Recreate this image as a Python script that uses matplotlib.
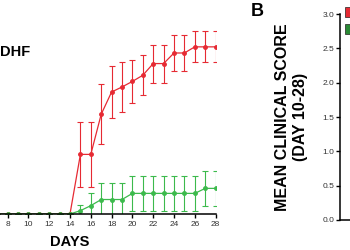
import matplotlib
matplotlib.use('Agg')
import matplotlib.pyplot as plt
from matplotlib.patches import Patch

plt.rcParams['font.family'] = ['Liberation Sans', 'DejaVu Sans']

# panel A: daily clinical score
days = list(range(0, 29))
dhf_mean = [0, 0, 0, 0, 0, 0, 0, 0, 0, 0, 0, 0, 0, 0, 0,
            1.07, 1.07, 1.79, 2.19, 2.28, 2.38, 2.49, 2.70, 2.70,
            2.89, 2.89, 3.00, 3.00, 3.00]
dhf_err = [0, 0, 0, 0, 0, 0, 0, 0, 0, 0, 0, 0, 0, 0, 0,
           0.59, 0.59, 0.54, 0.47, 0.45, 0.39, 0.36, 0.34, 0.34,
           0.32, 0.32, 0.28, 0.28, 0.28]
df_mean = [0, 0, 0, 0, 0, 0, 0, 0, 0, 0, 0, 0, 0, 0, 0,
           0.06, 0.15, 0.26, 0.26, 0.26, 0.37, 0.37, 0.37, 0.37,
           0.37, 0.37, 0.37, 0.46, 0.46]
df_err = [0, 0, 0, 0, 0, 0, 0, 0, 0, 0, 0, 0, 0, 0, 0,
          0.11, 0.22, 0.29, 0.29, 0.29, 0.31, 0.31, 0.31, 0.31,
          0.31, 0.31, 0.31, 0.31, 0.31]
day_ticks = [8, 10, 12, 14, 16, 18, 20, 22, 24, 26, 28]
score_ticks = [0, 0.5, 1.0, 1.5, 2.0, 2.5, 3.0]
red = '#e62a33'
green = '#3cba4c'

fig = plt.figure(figsize=(3.5, 2.5), dpi=100)

# left panel (mostly cropped out on the left)
ax1 = fig.add_axes([-0.216, 0.144, 0.832, 0.78])
ax1.errorbar(days, dhf_mean, yerr=dhf_err, color=red, lw=0.9, elinewidth=0.8,
             capsize=2, capthick=0.8, marker='o', ms=2.5, zorder=2)
ax1.errorbar(days, df_mean, yerr=df_err, color=green, lw=0.9, elinewidth=0.8,
             capsize=2, capthick=0.8, marker='o', ms=2.5, zorder=2)
ax1.set_xlim(0, 28)
ax1.set_ylim(0, 3.5)
ax1.set_xticks(day_ticks)
ax1.set_yticks([])
for s in ['top', 'right', 'left']:
    ax1.spines[s].set_visible(False)
ax1.spines['bottom'].set_linewidth(1.1)
ax1.spines['bottom'].set_zorder(3)
ax1.tick_params(axis='x', length=3, width=1, labelsize=6, pad=2,
                labelcolor='#333333')
ax1.set_xlabel('DAYS', fontsize=10.5, fontweight='bold', labelpad=5)
fig.text(0.0, 0.79, 'DHF', fontsize=10.5, fontweight='bold', ha='left',
         va='center')

# right panel (only its y axis is visible)
ax2 = fig.add_axes([0.9714, 0.12, 0.4, 0.824])
ax2.set_ylim(0, 3.0)
ax2.set_yticks(score_ticks)
ax2.set_yticklabels(['%.1f' % v for v in score_ticks])
ax2.set_xticks([])
for s in ['top', 'right']:
    ax2.spines[s].set_visible(False)
ax2.spines['left'].set_linewidth(1.1)
ax2.spines['bottom'].set_linewidth(1.1)
ax2.tick_params(axis='y', length=3, width=1, labelsize=6, pad=1,
                labelcolor='#333333')
fig.text(0.834, 0.532, 'MEAN CLINICAL SCORE\n(DAY 10-28)', rotation=90,
         fontsize=11.5, fontweight='bold', ha='center', va='center',
         multialignment='center', linespacing=1.25)
fig.text(0.734, 0.954, 'B', fontsize=13, fontweight='bold', ha='center',
         va='center')
# legend squares (their labels lie outside the crop)
handles = [Patch(facecolor=red, edgecolor='#222222', lw=0.5),
           Patch(facecolor='#2a8a35', edgecolor='#222222', lw=0.5)]
fig.legend(handles, ['', ''], loc='upper left',
           bbox_to_anchor=(0.986, 0.972), frameon=False, borderpad=0,
           borderaxespad=0, fontsize=8, handlelength=0.9, handleheight=1.0,
           labelspacing=0.6, handletextpad=0.5)

fig.savefig('out.png', dpi=100)
